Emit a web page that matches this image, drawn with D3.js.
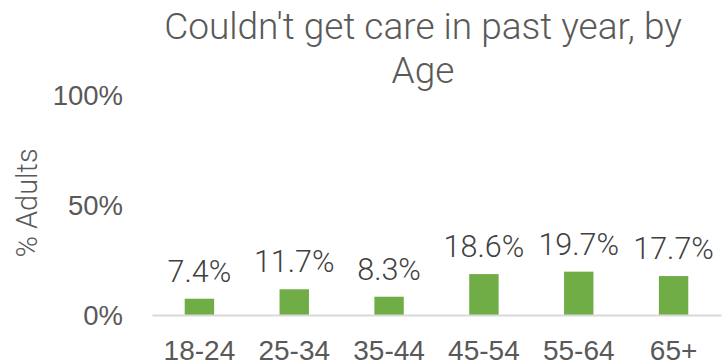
<!DOCTYPE html>
<html>
<head>
<meta charset="utf-8">
<script src="https://cdn.jsdelivr.net/npm/d3@7"></script>
<style>
  html, body { margin: 0; padding: 0; background: #fff; }
  svg { display: block; font-family: Roboto, "Liberation Sans", sans-serif; font-weight: 300; }
</style>
</head>
<body>
<svg id="chart" width="728" height="364"></svg>
<script>
// Share of adults who couldn't get care in the past year, by age group
const ageGroups = ["18-24", "25-34", "35-44", "45-54", "55-64", "65+"];
const percentCouldntGetCare = [7.4, 11.7, 8.3, 18.6, 19.7, 17.7];
const yTicks = [0, 50, 100];
const titleLines = ["Couldn't get care in past year, by", "Age"];

const svg = d3.select("#chart");
const textColor = "#595959";

const x = d3.scaleBand()
  .domain(ageGroups)
  .range([152, 721])
  .paddingInner(0.69)
  .paddingOuter(0.345);

const y = d3.scaleLinear()
  .domain([0, 100])
  .range([315, 95]);

// Title, two centred lines
svg.append("text")
  .attr("text-anchor", "middle")
  .attr("fill", textColor)
  .style("font-size", "37px")
  .selectAll("tspan")
  .data(titleLines)
  .join("tspan")
  .attr("x", 423)
  .attr("y", (d, i) => 39 + i * 44)
  .text(d => d);

// Y axis (labels only)
const yAxis = d3.axisLeft(y)
  .tickValues(yTicks)
  .tickFormat(d => d + "%")
  .tickSize(0)
  .tickPadding(0);

const yg = svg.append("g")
  .attr("transform", "translate(123,0)")
  .call(yAxis);
yg.select(".domain").remove();
yg.selectAll("text")
  .attr("fill", textColor)
  .style("font-size", "27.5px")
  .style("font-family", "inherit")
  .attr("dy", "0.35em");

// Y axis title
svg.append("text")
  .attr("transform", "translate(37,203) rotate(-90)")
  .attr("text-anchor", "middle")
  .attr("fill", textColor)
  .style("font-size", "29px")
  .text("% Adults");

// Bars
svg.append("g")
  .selectAll("rect")
  .data(ageGroups)
  .join("rect")
  .attr("x", d => x(d))
  .attr("width", x.bandwidth())
  .attr("y", (d, i) => y(percentCouldntGetCare[i]))
  .attr("height", (d, i) => y(0) - y(percentCouldntGetCare[i]))
  .attr("fill", "#70AD47");

// Value labels above bars
svg.append("g")
  .selectAll("text")
  .data(ageGroups)
  .join("text")
  .attr("x", d => x(d) + x.bandwidth() / 2)
  .attr("y", (d, i) => y(percentCouldntGetCare[i]) - 17)
  .attr("text-anchor", "middle")
  .attr("fill", "#404040")
  .style("font-size", "30.5px")
  .text((d, i) => percentCouldntGetCare[i].toFixed(1) + "%");

// X axis
const xAxis = d3.axisBottom(x).tickSize(0).tickPadding(0);
const xg = svg.append("g")
  .attr("transform", `translate(0,${y(0)})`)
  .call(xAxis);
xg.select(".domain")
  .attr("stroke", "#d9d9d9")
  .attr("stroke-width", 2);
xg.selectAll("text")
  .attr("fill", textColor)
  .style("font-size", "28px")
  .style("font-family", "inherit")
  .attr("dy", 0)
  .attr("y", 45);
</script>
</body>
</html>
